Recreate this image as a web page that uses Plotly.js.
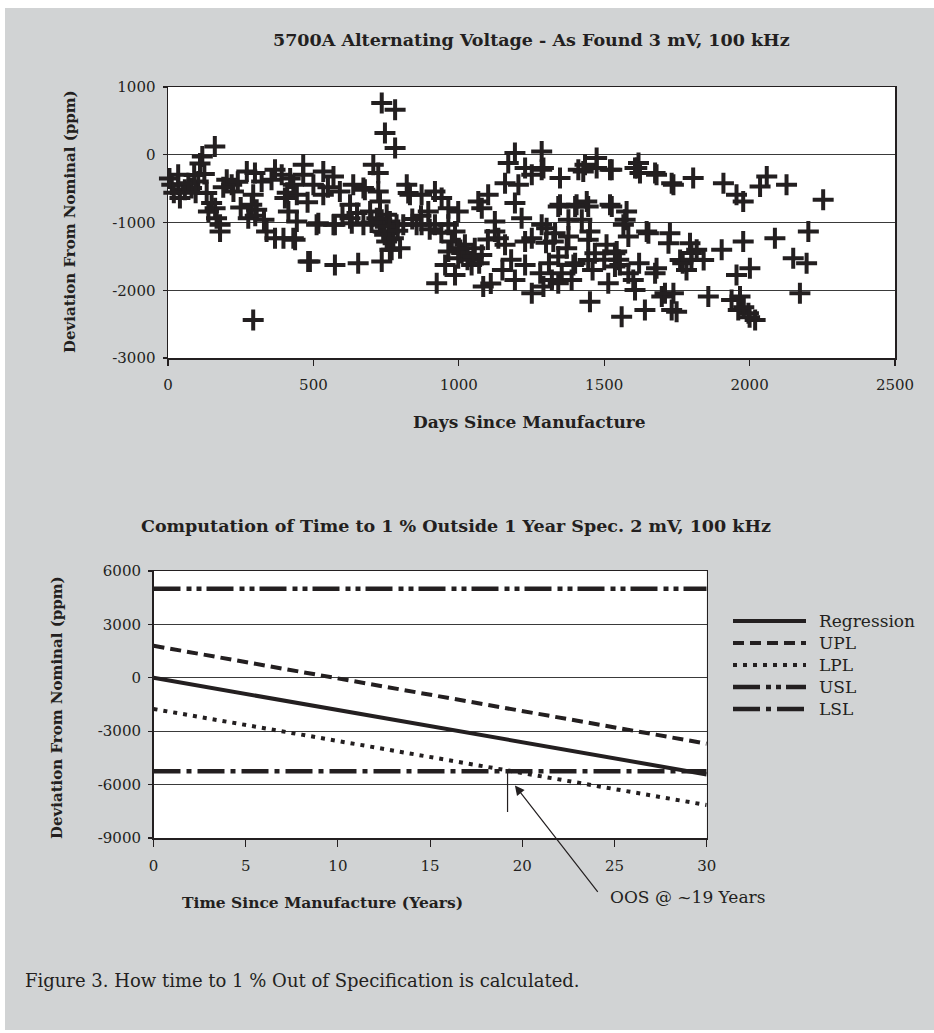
<!DOCTYPE html>
<html>
<head>
<meta charset="utf-8">
<script src="https://cdn.plot.ly/plotly-3.0.1.min.js"></script>
<style>
  html, body { margin: 0; padding: 0; background: #ffffff; }
  #chart { position: absolute; left: 5px; top: 8px; width: 929px; height: 1022px; }
</style>
</head>
<body>
<div id="chart"></div>
<script>
// ---- As-found readings: days since manufacture and deviation (ppm) ----
const daysSinceMfg = [
  161,118,125,35,35,13,58,41,81,104,133,150,162,139,167,179,179,202,219,225,
  271,299,293,288,305,276,322,368,356,391,402,414,339,368,397,
  5,20,70,95,110,90,240,190,250,300,330,
  735,781,746,781,706,723,293,482,574,654,735,769,437,517,574,632,677,735,826,
  465,465,534,569,500,431,443,534,591,637,672,723,729,821,832,626,626,569,511,443,
  431,672,729,763,763,752,763,798,809,855,488,752,775,740,786,718,695,
  420,410,480,550,600,650,700,745,760,790,840,870,
  1193,1285,1170,1228,1159,1205,1251,1285,1101,1067,1079,918,941,872,895,964,998,964,918,872,
  987,1124,1124,1193,1216,1285,976,1021,1055,964,998,953,1044,1079,1136,1159,1228,1251,1228,987,
  924,1084,1193,1251,1291,1342,1388,1451,1560,1640,1514,1606,1698,1732,1537,1583,1675,1709,1468,1537,
  1445,1572,1583,1652,1721,1342,1400,1445,1526,1377,1423,1331,1377,1342,1400,1354,1445,1434,1474,1526,
  1606,1618,1675,1732,1411,
  1010,1030,1050,1070,1000,940,900,1100,1110,1150,1180,1300,1310,1280,1320,1460,1500,1550,1600,1620,
  1291,1348,1428,1474,1520,1612,1623,1680,1348,1405,1440,1520,1577,1566,1646,1302,1325,1371,1451,1508,
  1543,1554,1394,1680,
  1738,1806,1910,1955,1978,2036,2059,2127,2253,1726,1795,1818,1761,1842,1783,1904,1978,1955,2001,2087,
  2202,2150,2196,2173,1738,1749,1858,1938,1967,1961,1996,2019,1800,1770,2000,1980,1800
];
const deviationPpm = [
  123,-25,-285,-296,-443,-443,-517,-640,-492,-394,-566,-714,-788,-837,-936,-1035,-1133,-370,-443,-542,
  -246,-271,-591,-739,-813,-936,-394,-222,-370,-296,-640,-837,-1133,-1232,-1232,
  -350,-560,-420,-560,-130,-300,-400,-480,-780,-900,-960,
  764,665,320,99,-148,-271,-2439,-1577,-1626,-1601,-1577,-1404,-1256,-1010,-1035,-1010,-517,-961,-566,
  -148,-296,-246,-320,-443,-443,-591,-591,-542,-443,-492,-542,-690,-443,-591,-739,-936,-1035,-1035,-986,
  -1232,-1035,-1035,-986,-1133,-1281,-1404,-1379,-1035,-1035,-1577,-887,-1232,-1133,-1035,-936,-837,
  -350,-560,-700,-480,-900,-860,-1000,-1180,-1060,-1120,-950,-900,
  25,49,-123,-197,-419,-443,-296,-222,-591,-690,-788,-542,-640,-591,-837,-788,-837,-1035,-1035,-1035,
  -1133,-986,-1133,-714,-936,-1035,-1281,-1330,-1379,-1429,-1527,-1626,-1626,-1478,-1232,-1330,-1281,-1232,-1626,-1774,
  -1897,-1946,-1848,-2044,-1946,-1897,-1848,-2168,-2390,-2291,-1897,-1996,-2094,-2291,-1651,-1749,-1749,-2044,-1453,-1453,
  -1256,-961,-1207,-1158,-1305,-764,-764,-764,-764,-961,-961,-1158,-1207,-1503,-1601,-1749,-1552,-148,-49,-222,
  -197,-123,-271,-419,-222,
  -1450,-1550,-1500,-1600,-1380,-1150,-1100,-1250,-1900,-1700,-1550,-1300,-1600,-1750,-1850,-1700,-1550,-1550,-1850,-1600,
  -197,-345,-246,-197,-222,-197,-271,-296,-739,-739,-690,-739,-837,-1035,-1133,-1084,-1281,-1379,-1133,-1330,
  -1429,-1626,-1626,-1675,
  -443,-345,-419,-591,-690,-468,-320,-443,-665,-1158,-1305,-1404,-1552,-1552,-1700,-1404,-1281,-1774,-1675,-1232,
  -1133,-1527,-1601,-2044,-2044,-2316,-2094,-2143,-2094,-2291,-2341,-2439,-1450,-1600,-2400,-2250,-1550
];

// ---- Projection to the 1-year specification limit ----
const yearsSpan = [0, 30];
const regressionPpm = [0, -5430];
const uplPpm = [1800, -3700];
const lplPpm = [-1750, -7150];
const uslPpm = [5000, 5000];
const lslPpm = [-5250, -5250];
const oosYears = [19.2, 19.2];
const oosMarkerPpm = [-5250, -7540];

// ---- Tick labels ----
const dayTicks = [0, 500, 1000, 1500, 2000, 2500];
const topPpmTicks = [1000, 0, -1000, -2000, -3000];
const topPpmLabels = ['1000', '0', '-1000', '-2000', '-3000'];
const yearTicks = [0, 5, 10, 15, 20, 25, 30];
const bottomPpmTicks = [6000, 3000, 0, -3000, -6000, -9000];
const bottomPpmLabels = ['6000', '3000', '0', '-3000', '-6000', '-9000'];

const legendNames = ['Regression', 'UPL', 'LPL', 'USL', 'LSL'];

const INK = '#231f20';
const SERIF = 'DejaVu Serif, serif';
const W = 929, H = 1022;
const px = x => (x - 5) / W;
const py = y => 1 - (y - 8) / H;

const styles = {
  Regression: { width: 4, dash: 'solid' },
  UPL: { width: 4, dash: '11px,6px' },
  LPL: { width: 4, dash: '4px,6px' },
  USL: { width: 4.5, dash: '27px,6px,5px,5px,5px,5px' },
  LSL: { width: 4.5, dash: '27px,6px,5px,6px' }
};

const lineTrace = (name, ys) => ({
  x: yearsSpan, y: ys, xaxis: 'x2', yaxis: 'y2', mode: 'lines', name: name,
  line: { color: INK, width: styles[name].width, dash: styles[name].dash },
  showlegend: false, hoverinfo: 'skip'
});

const traces = [
  {
    x: daysSinceMfg, y: deviationPpm, mode: 'markers', type: 'scatter',
    marker: { symbol: 'cross-thin', size: 15, color: INK, line: { color: INK, width: 4 } },
    showlegend: false, hoverinfo: 'skip', cliponaxis: false
  },
  lineTrace('USL', uslPpm),
  lineTrace('LSL', lslPpm),
  lineTrace('UPL', uplPpm),
  lineTrace('LPL', lplPpm),
  lineTrace('Regression', regressionPpm),
  {
    x: oosYears, y: oosMarkerPpm, xaxis: 'x2', yaxis: 'y2', mode: 'lines',
    line: { color: INK, width: 1.2 }, showlegend: false, hoverinfo: 'skip', cliponaxis: false
  }
];

const axisCommon = {
  showline: true, mirror: true, linecolor: INK, linewidth: 1.5,
  ticks: 'outside', tickcolor: INK, tickwidth: 1.2, zeroline: false,
  tickfont: { family: SERIF, size: 15, color: INK }, fixedrange: true
};

// Hand-drawn legend: sample lines and labels to the right of the lower chart
const legendY = [621, 643, 665, 687, 709];
const legendShapes = legendNames.map((n, i) => ({
  type: 'line', xref: 'paper', yref: 'paper',
  x0: px(733), x1: px(806), y0: py(legendY[i]), y1: py(legendY[i]),
  line: { color: INK, width: styles[n].width, dash: styles[n].dash }
}));
const legendLabels = legendNames.map((n, i) => ({
  xref: 'paper', yref: 'paper', x: px(817), y: py(legendY[i]),
  xanchor: 'left', yanchor: 'middle', showarrow: false, text: n,
  font: { family: SERIF, size: 17, color: INK }
}));

const bold = size => ({ family: SERIF, size: size, color: INK, weight: 'bold' });

const label = (x, y, text, font, extra) => Object.assign({
  xref: 'paper', yref: 'paper', x: px(x), y: py(y), text: text, font: font,
  showarrow: false, xanchor: 'center', yanchor: 'middle'
}, extra || {});

const layout = {
  width: W, height: H,
  margin: { l: 0, r: 0, t: 0, b: 0 },
  paper_bgcolor: '#d1d3d4', plot_bgcolor: '#ffffff',
  showlegend: false,
  xaxis: Object.assign({}, axisCommon, {
    domain: [px(168), px(895)], range: [0, 2500], tickvals: dayTicks,
    ticklen: 6, showgrid: false, anchor: 'y', ticklabelstandoff: 6
  }),
  yaxis: Object.assign({}, axisCommon, {
    domain: [py(358), py(87)], range: [-3000, 1000],
    tickvals: topPpmTicks, ticktext: topPpmLabels, ticklen: 4,
    showgrid: true, gridcolor: '#3a3a3a', gridwidth: 1, anchor: 'x', ticklabelstandoff: 4
  }),
  xaxis2: Object.assign({}, axisCommon, {
    domain: [px(153.5), px(706.7)], range: [0, 30], tickvals: yearTicks,
    ticklen: 7, showgrid: false, anchor: 'y2', ticklabelstandoff: 6
  }),
  yaxis2: Object.assign({}, axisCommon, {
    domain: [py(838), py(571)], range: [-9000, 6000],
    tickvals: bottomPpmTicks, ticktext: bottomPpmLabels, ticklen: 4,
    showgrid: true, gridcolor: '#3a3a3a', gridwidth: 1, anchor: 'x2', ticklabelstandoff: 4
  }),
  shapes: legendShapes,
  annotations: [
    label(531, 40, '5700A Alternating Voltage - As Found 3 mV, 100 kHz', bold(17.5)),
    label(70, 222, 'Deviation From Nominal (ppm)', bold(15), { textangle: -90 }),
    label(529, 422, 'Days Since Manufacture', bold(17)),
    label(456, 526, 'Computation of Time to 1 % Outside 1 Year Spec. 2 mV, 100 kHz', bold(17.5)),
    label(57, 708, 'Deviation From Nominal (ppm)', bold(15), { textangle: -90 }),
    label(322, 902, 'Time Since Manufacture (Years)', bold(15.5)),
    { xref: 'x2', yref: 'y2', x: 19.6, y: -6050, ax: 84, ay: 108, text: '',
      showarrow: true, arrowhead: 2, arrowsize: 1.6, arrowwidth: 1.2, arrowcolor: INK },
    label(608, 897, 'OOS @ ~19 Years', { family: SERIF, size: 17, color: INK }, { xanchor: 'left' }),
    label(23, 980, 'Figure 3. How time to 1 % Out of Specification is calculated.',
      { family: SERIF, size: 18, color: INK }, { xanchor: 'left' })
  ].concat(legendLabels)
};

Plotly.newPlot('chart', traces, layout, { displayModeBar: false, staticPlot: true });
</script>
</body>
</html>
